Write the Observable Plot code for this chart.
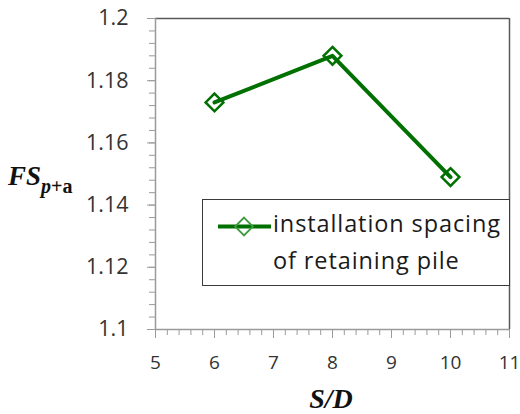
<!DOCTYPE html>
<html>
<head>
<meta charset="utf-8">
<script src="https://cdn.jsdelivr.net/npm/d3@7"></script>
<script src="https://cdn.jsdelivr.net/npm/@observablehq/plot@0.6"></script>
<style>
  body { margin: 0; background: #fff; }
  #wrap { position: relative; width: 520px; height: 414px; font-family: "Open Sans", sans-serif; }
  #legend { position: absolute; left: 202px; top: 199px; width: 306px; height: 85px; border: 1.5px solid #3a3a3a; background: #fff; }
  #legend .txt { position: absolute; left: 70px; top: 5px; font-size: 23.5px; letter-spacing: 0.9px; line-height: 37px; color: #1a1a1a; white-space: nowrap; }
  #legend svg { position: absolute; left: 0; top: 0; }
</style>
</head>
<body>
<div id="wrap"></div>
<script>
const spacing = [6, 8, 10];
const fs = [1.173, 1.188, 1.149];
const xTicks = [5, 6, 7, 8, 9, 10, 11];
const yTicks = [1.1, 1.12, 1.14, 1.16, 1.18, 1.2];
const seriesName = ["installation spacing", "of retaining pile"];
const green = "#007000";

const data = spacing.map((s, i) => ({s, fs: fs[i]}));
const xMinor = d3.range(5, 11.0001, 0.2);
const yMinor = d3.range(1.1, 1.2001, 0.004);

const chart = Plot.plot({
  width: 520,
  height: 414,
  marginLeft: 155,
  marginRight: 11,
  marginTop: 18,
  marginBottom: 85,
  style: { fontFamily: "'Open Sans', sans-serif", background: "#fff" },
  x: { domain: [5, 11], label: null },
  y: { domain: [1.1, 1.2], label: null },
  marks: [
    Plot.ruleY([1.2], { stroke: "#5a5a5a", strokeWidth: 1.5 }),
    Plot.ruleX([11], { stroke: "#5a5a5a", strokeWidth: 1.5 }),
    Plot.axisY(yMinor, { tickSize: 6, text: null, stroke: "#9a9a9a", strokeOpacity: 1 }),
    Plot.axisY(yTicks, { tickSize: 8, tickPadding: 19, tickFormat: d => String(d), fontSize: 21.5, fill: "#333", stroke: "#9a9a9a", strokeOpacity: 1 }),
    Plot.axisX(xMinor, { tickSize: 6, text: null, stroke: "#9a9a9a", strokeOpacity: 1 }),
    Plot.axisX(xTicks, { tickSize: 9, tickPadding: 17, tickFormat: d => String(d), fontSize: 19, fill: "#333", stroke: "#9a9a9a", strokeOpacity: 1 }),
    Plot.ruleX([5], { stroke: "#9a9a9a", strokeWidth: 1.5 }),
    Plot.ruleY([1.1], { stroke: "#9a9a9a", strokeWidth: 1.5 }),
    Plot.line(data, { x: "s", y: "fs", stroke: green, strokeWidth: 4 }),
    Plot.dot(data, { x: "s", y: "fs", symbol: "diamond2", r: 8, stroke: green, strokeWidth: 2.5, fill: "none" })
  ]
});

const svg = d3.select(chart);
// axis titles
const yt = svg.append("text")
  .attr("x", 8).attr("y", 185)
  .attr("text-anchor", "start")
  .attr("font-family", "'Liberation Serif', 'Times New Roman', serif")
  .attr("font-weight", "bold")
  .attr("fill", "#111");
yt.append("tspan").attr("font-style", "italic").attr("font-size", 27).text("FS");
yt.append("tspan").attr("font-style", "italic").attr("font-size", 20).attr("dy", 8).text("p");
yt.append("tspan").attr("font-size", 20).text("+a");

svg.append("text")
  .attr("x", 331).attr("y", 408)
  .attr("text-anchor", "middle")
  .attr("font-family", "'Liberation Serif', 'Times New Roman', serif")
  .attr("font-weight", "bold").attr("font-style", "italic")
  .attr("font-size", 28).attr("fill", "#111")
  .text("S/D");

const wrap = document.getElementById("wrap");
wrap.appendChild(chart);

// legend
const leg = document.createElement("div");
leg.id = "legend";
const lsvg = d3.create("svg").attr("width", 70).attr("height", 50);
lsvg.append("line").attr("x1", 15).attr("x2", 68).attr("y1", 26.5).attr("y2", 26.5)
  .attr("stroke", green).attr("stroke-width", 4);
lsvg.append("path").attr("d", d3.symbol(d3.symbolDiamond2, Math.PI * 64)())
  .attr("transform", "translate(41,26.5)")
  .attr("fill", "none").attr("stroke", "#3c9a3c").attr("stroke-width", 1.8);
leg.appendChild(lsvg.node());
const txt = document.createElement("div");
txt.className = "txt";
txt.innerHTML = seriesName.join("<br>");
leg.appendChild(txt);
wrap.appendChild(leg);
</script>
</body>
</html>
